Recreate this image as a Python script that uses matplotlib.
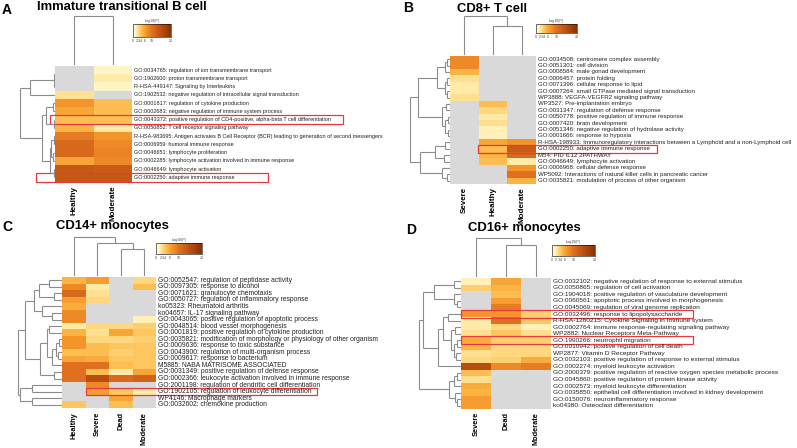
import numpy as np
import matplotlib
matplotlib.use('Agg')
import matplotlib.pyplot as plt
from matplotlib.colors import LinearSegmentedColormap, Normalize
from matplotlib.cm import ScalarMappable
from matplotlib.patches import Rectangle
from matplotlib import transforms

nan = np.nan
plt.rcParams['font.family'] = ['Liberation Sans', 'DejaVu Sans']

# ---------------- data: panel A ----------------
A_TITLE = 'Immature transitional B cell'
A_COLS = ['Healthy', 'Moderate']
A_TERMS = [
    'GO:0034765: regulation of ion transmembrane transport',
    'GO:1902600: proton transmembrane transport',
    'R-HSA-449147: Signaling by Interleukins',
    'GO:1902532: negative regulation of intracellular signal transduction',
    'GO:0001817: regulation of cytokine production',
    'GO:0002683: negative regulation of immune system process',
    'GO:0043372: positive regulation of CD4-positive, alpha-beta T cell differentiation',
    'GO:0050852: T cell receptor signaling pathway',
    'R-HSA-983695: Antigen activates B Cell Receptor (BCR) leading to generation of second messengers',
    'GO:0006959: humoral immune response',
    'GO:0046651: lymphocyte proliferation',
    'GO:0002285: lymphocyte activation involved in immune response',
    'GO:0046649: lymphocyte activation',
    'GO:0002250: adaptive immune response',
]
A_HEALTHY = [nan, nan, nan, 2.5, 7, 6, 4.5, 5, 9, 11, 11, 6, 13.5, 13.5]
A_MODERATE = [1.2, 1.8, 1.2, nan, 4.5, 4.5, 4.5, 2.0, 7, 8, 8.5, 8, 13, 13.5]
A_ROW_TREE = (35, (25, (1, (0.5, 0, 1), 2), 3),
              (13, (9, (2, 4, 5), (1.5, 6, 7)),
               (5, (4, (1, 8, 9), (2, 10, 11)), (1.5, 12, 13))))
A_COL_TREE = (50, 0, 1)
A_MARKED = [6, 13]

# ---------------- data: panel B ----------------
B_TITLE = 'CD8+ T cell'
B_COLS = ['Severe', 'Healthy', 'Moderate']
B_TERMS = [
    'GO:0034508: centromere complex assembly',
    'GO:0051301: cell division',
    'GO:0008584: male gonad development',
    'GO:0006457: protein folding',
    'GO:0071396: cellular response to lipid',
    'GO:0007264: small GTPase mediated signal transduction',
    'WP3888: VEGFA-VEGFR2 signaling pathway',
    'WP3527: Pre-implantation embryo',
    'GO:0031347: regulation of defense response',
    'GO:0050778: positive regulation of immune response',
    'GO:0007420: brain development',
    'GO:0051346: negative regulation of hydrolase activity',
    'GO:0001666: response to hypoxia',
    'R-HSA-198933: Immunoregulatory interactions between a Lymphoid and a non-Lymphoid cell',
    'GO:0002250: adaptive immune response',
    'M54: PID IL12 2PATHWAY',
    'GO:0046649: lymphocyte activation',
    'GO:0006968: cellular defense response',
    'WP5092: Interactions of natural killer cells in pancreatic cancer',
    'GO:0035821: modulation of process of other organism',
]
B_SEVERE = [8, 8, 5, 2.5, 2, 2, 2.5, nan, nan, nan, nan, nan, nan, nan, nan, nan, nan, nan, nan, nan]
B_HEALTHY = [nan, nan, nan, nan, nan, nan, nan, 4.5, 3, 2, 2.5, 1.5, 1.5, 6, 4.5, 5, 4.5, nan, nan, nan]
B_MODERATE = [nan, nan, nan, nan, nan, nan, nan, nan, nan, nan, nan, nan, nan, 7, 13, 11, 2, 7, 10, 5]
B_ROW_TREE = (40, (32, (13, (5, (3, 0, 1), 2), (5, (3, 3, 4), (3, 5, 6))),
                   (8, (4, 7, 8), (5, (2, 9, 10), (2, 11, 12)))),
              (30, (15, (5, 13, 14), (6, 15, 16)), (8, 17, (3, 18, 19))))
B_COL_TREE = (40, 0, (30, 1, 2))
B_MARKED = [14]

# ---------------- data: panel C ----------------
C_TITLE = 'CD14+ monocytes'
C_COLS = ['Healthy', 'Severe', 'Dead', 'Moderate']
C_TERMS = [
    'GO:0052547: regulation of peptidase activity',
    'GO:0097305: response to alcohol',
    'GO:0071621: granulocyte chemotaxis',
    'GO:0050727: regulation of inflammatory response',
    'ko05323: Rheumatoid arthritis',
    'ko04657: IL-17 signaling pathway',
    'GO:0043065: positive regulation of apoptotic process',
    'GO:0048514: blood vessel morphogenesis',
    'GO:0001819: positive regulation of cytokine production',
    'GO:0035821: modification of morphology or physiology of other organism',
    'GO:0009636: response to toxic substance',
    'GO:0043900: regulation of multi-organism process',
    'GO:0009617: response to bacterium',
    'M5885: NABA MATRISOME ASSOCIATED',
    'GO:0031349: positive regulation of defense response',
    'GO:0002366: leukocyte activation involved in immune response',
    'GO:2001198: regulation of dendritic cell differentiation',
    'GO:1902105: regulation of leukocyte differentiation',
    'WP4146: Macrophage markers',
    'GO:0032602: chemokine production',
]
C_HEALTHY = [5, 8, 11, 6.5, 5.5, 8, 8, 2, 5, 7, 7, 4.5, 6, 10, 10, 10, nan, nan, nan, 4]
C_SEVERE = [6.5, 2, 2.5, 3, nan, nan, nan, 3, 2.5, 3, 4.5, 4.5, 5.5, 10, 4.5, 15, 8, 6.5, nan, nan]
C_DEAD = [nan, nan, nan, nan, nan, nan, nan, 3, 6, 3, 4, 3.5, 4, 4.5, 2, 11, nan, 4, 6, 4.5]
C_MODERATE = [3, 4.5, nan, nan, nan, nan, 1.5, 3.5, 4, 3.5, 4, 4, 4, 4, 6, 12, nan, 2, nan, nan]
C_ROW_TREE = (44, (37, (28, (23, (13, 0, 1), (8, 2, 3)), (20, 4, (10, 5, 6))),
                   (22, (15, (13, 7, 8), (10, (6, (3, 9, 10), (4, 11, 12)), 13)),
                    (8, 14, 15))),
              (42, (30, 16, 17), (30, 18, 19)))
C_COL_TREE = (40, 0, (34, 1, (28, 2, 3)))
C_MARKED = [17]

# ---------------- data: panel D ----------------
D_TITLE = 'CD16+ monocytes'
D_COLS = ['Severe', 'Dead', 'Moderate']
D_TERMS = [
    'GO:0032102: negative regulation of response to external stimulus',
    'GO:0050865: regulation of cell activation',
    'GO:1904018: positive regulation of vasculature development',
    'GO:0060561: apoptotic process involved in morphogenesis',
    'GO:0045069: regulation of viral genome replication',
    'GO:0032496: response to lipopolysaccharide',
    'R-HSA-1280215: Cytokine Signaling in Immune system',
    'GO:0002764: immune response-regulating signaling pathway',
    'WP2882: Nuclear Receptors Meta-Pathway',
    'GO:1990266: neutrophil migration',
    'GO:0010942: positive regulation of cell death',
    'WP2877: Vitamin D Receptor Pathway',
    'GO:0032103: positive regulation of response to external stimulus',
    'GO:0002274: myeloid leukocyte activation',
    'GO:2000379: positive regulation of reactive oxygen species metabolic process',
    'GO:0045860: positive regulation of protein kinase activity',
    'GO:0002573: myeloid leukocyte differentiation',
    'GO:0035850: epithelial cell differentiation involved in kidney development',
    'GO:0150076: neuroinflammatory response',
    'ko04380: Osteoclast differentiation',
]
D_SEVERE = [1.5, 3.5, nan, nan, nan, 7, 2, 2, 2.5, 5.5, 5, 2.5, 3, 15, 4.5, 2.5, 5.5, 5, 6.5, 6.5]
D_DEAD = [6, 5, 4.5, 6.5, 9, 7, 10, 3, 4, 3.5, 3, 3, 3.5, 8, nan, nan, nan, nan, nan, nan]
D_MODERATE = [nan, nan, nan, nan, nan, 3.5, 4, 1.5, 2.5, 3.5, 3, 3, 5.5, 9, nan, nan, nan, nan, nan, nan]
D_ROW_TREE = (42, (38, (27, (7, 0, 1), (7, 2, (4, 3, 4))),
                   (23, (18, (13, 5, 6), (10, (6, 7, 8), (7, (4, 9, 10), (5, 11, 12)))), 13)),
              (12, (7, (4, 14, 15), 16), (6, 17, (4, 18, 19))))
D_COL_TREE = (40, 0, (33, 1, 2))
D_MARKED = [5, 9]

# ---------------- style ----------------
W, H = 797, 448
CMAP = LinearSegmentedColormap.from_list('mscape', [
    (0.0, '#FFFFF2'), (0.08, '#FFF0B5'), (0.15, '#FFD77E'), (0.25, '#FBB443'),
    (0.35, '#F3952A'), (0.5, '#E07020'), (0.75, '#B84E10'), (1.0, '#8A3200')])
CMAP.set_bad('#D9D9D9')
NORM = Normalize(0, 20)
LINE = '#8C8C8C'
RED = '#E8393E'


def px_rect(left, top, right, bottom):
    return [left / W, 1 - bottom / H, (right - left) / W, (bottom - top) / H]


def draw_tree(ax, node, orient):
    if isinstance(node, int):
        return node + 0.5, 0.0
    h, left, right = node
    p1, h1 = draw_tree(ax, left, orient)
    p2, h2 = draw_tree(ax, right, orient)
    for pa, ha, pb, hb in [(p1, h1, p1, h), (p1, h, p2, h), (p2, h2, p2, h)]:
        if orient == 'row':
            ax.plot([ha, hb], [pa, pb], color=LINE, lw=0.8, solid_capstyle='butt')
        else:
            ax.plot([pa, pb], [ha, hb], color=LINE, lw=0.8, solid_capstyle='butt')
    return (p1 + p2) / 2, h


def draw_panel(fig, letter, title, cols, terms, values, row_tree, col_tree, marked, lay):
    left, top, right, bottom = lay['heat']
    nrow, ncol = values.shape
    ax = fig.add_axes(px_rect(left, top, right, bottom))
    ax.pcolormesh(np.ma.masked_invalid(values), cmap=CMAP, norm=NORM)
    ax.set_xlim(0, ncol)
    ax.set_ylim(nrow, 0)
    ax.axis('off')

    # row dendrogram
    rh = row_tree[0]
    rax = fig.add_axes(px_rect(left - rh - 1, top, left, bottom))
    draw_tree(rax, row_tree, 'row')
    rax.set_xlim(rh + 1, 0)
    rax.set_ylim(nrow, 0)
    rax.axis('off')

    # column dendrogram
    ch = col_tree[0]
    cax = fig.add_axes(px_rect(left, top - ch - 1, right, top - 1))
    draw_tree(cax, col_tree, 'col')
    cax.set_xlim(0, ncol)
    cax.set_ylim(0, ch + 1)
    cax.axis('off')

    # row labels, font fitted to the measured width of one reference label
    texts = [ax.annotate(t, (ncol, i + 0.5), xytext=(1.2, 0), textcoords='offset points',
                         va='center', ha='left', fontsize=5, color='#222222',
                         annotation_clip=False)
             for i, t in enumerate(terms)]
    ref, target = lay['fit']
    rend = fig.canvas.get_renderer()
    w = texts[ref].get_window_extent(rend).width
    for t in texts:
        t.set_fontsize(5 * target / w)

    # column labels
    for j, c in enumerate(cols):
        ax.annotate(c, (j + 0.5, nrow), xytext=(0, -lay['lab_gap']), textcoords='offset pixels',
                    rotation=90, ha='center', va='top', fontsize=lay['lab_size'],
                    fontweight='bold', annotation_clip=False)

    # marked terms
    trans = transforms.blended_transform_factory(fig.transFigure, ax.transData)
    for r, (x0, x1) in zip(marked, lay['boxes']):
        ax.add_patch(Rectangle((x0 / W, r - 0.08), (x1 - x0) / W, 1.16, fill=False,
                               ec=RED, lw=0.9, transform=trans, clip_on=False))

    # colour key
    bl, bt, br, bb = lay['key']
    kax = fig.add_axes(px_rect(bl, bt, br, bb))
    cb = fig.colorbar(ScalarMappable(norm=NORM, cmap=CMAP), cax=kax, orientation='horizontal')
    cb.set_ticks([0, 2, 3, 4, 6, 10, 20])
    kax.tick_params(labelsize=2.6, length=1, width=0.3, pad=0.6, colors='#444444')
    cb.outline.set_linewidth(0.4)
    kax.set_title('-log10(P)', fontsize=2.6, pad=1.2, color='#444444')

    # titles
    lx, ly = lay['letter']
    fig.text(lx / W, 1 - ly / H, letter, fontsize=10, fontweight='bold', va='center', ha='left')
    tx, ty = lay['title']
    fig.text(tx / W, 1 - ty / H, title, fontsize=9.4, fontweight='bold', va='center', ha='left')


fig = plt.figure(figsize=(W / 100, H / 100), dpi=100)

draw_panel(fig, 'A', A_TITLE, A_COLS, A_TERMS, np.array([A_HEALTHY, A_MODERATE]).T,
           A_ROW_TREE, A_COL_TREE, A_MARKED,
           {'heat': (55, 66, 132, 181.5), 'fit': (13, 103), 'lab_gap': 4, 'lab_size': 5.8,
            'boxes': [(50, 343), (36, 268)], 'key': (133, 24, 171, 37),
            'letter': (2, 10), 'title': (37, 7.5)})

draw_panel(fig, 'B', B_TITLE, B_COLS, B_TERMS, np.array([B_SEVERE, B_HEALTHY, B_MODERATE]).T,
           B_ROW_TREE, B_COL_TREE, B_MARKED,
           {'heat': (450, 56, 536, 184), 'fit': (19, 151), 'lab_gap': 3, 'lab_size': 5.8,
            'boxes': [(478, 657)], 'key': (536, 24, 577, 33),
            'letter': (403, 8), 'title': (457, 8.5)})

draw_panel(fig, 'C', C_TITLE, C_COLS, C_TERMS,
           np.array([C_HEALTHY, C_SEVERE, C_DEAD, C_MODERATE]).T,
           C_ROW_TREE, C_COL_TREE, C_MARKED,
           {'heat': (62, 277, 156, 408), 'fit': (9, 222), 'lab_gap': 4, 'lab_size': 5.3,
            'boxes': [(86, 317)], 'key': (156, 243, 202, 254),
            'letter': (2, 227), 'title': (56, 226)})

draw_panel(fig, 'D', D_TITLE, D_COLS, D_TERMS, np.array([D_SEVERE, D_DEAD, D_MODERATE]).T,
           D_ROW_TREE, D_COL_TREE, D_MARKED,
           {'heat': (461, 278, 551, 409), 'fit': (14, 228), 'lab_gap': 3, 'lab_size': 5.3,
            'boxes': [(461, 693), (461, 693)], 'key': (552, 245, 595, 256),
            'letter': (406, 230), 'title': (468, 228)})

fig.savefig('out.png', dpi=100, facecolor='white')
